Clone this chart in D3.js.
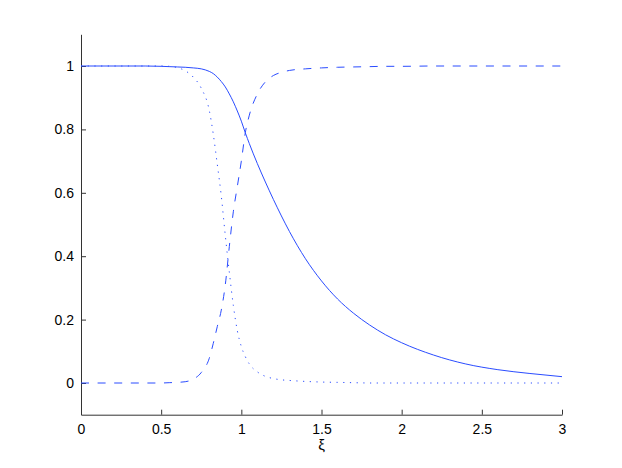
<!DOCTYPE html>
<html><head><meta charset="utf-8">
<script src="https://cdnjs.cloudflare.com/ajax/libs/d3/7.8.5/d3.min.js"></script>
<style>
body{margin:0;background:#fff;}
svg{display:block;}
text{font-family:"Liberation Sans",Arial,sans-serif;}
</style></head>
<body>
<script>
const xi = [0,0.1,0.2,0.3,0.4,0.5,0.55,0.6,0.65,0.7,0.75,0.8,0.825,0.85,0.875,0.9,0.925,0.95,0.975,1.0,1.025,1.05,1.1,1.15,1.2,1.25,1.3,1.4,1.5,1.6,1.7,1.8,1.9,2.0,2.2,2.4,2.6,2.8,3.0];
const solid = [1,1,1,1,1,0.999,0.998,0.997,0.996,0.994,0.991,0.983,0.976,0.965,0.951,0.934,0.912,0.887,0.858,0.826,0.789,0.755,0.692,0.634,0.579,0.527,0.478,0.392,0.322,0.265,0.220,0.183,0.152,0.127,0.088,0.06,0.042,0.03,0.020];
const dotted = [1,1,1,1,1,1,0.999,0.995,0.985,0.965,0.93,0.86,0.785,0.69,0.59,0.465,0.35,0.245,0.165,0.115,0.083,0.06,0.035,0.021,0.014,0.01,0.008,0.005,0.003,0.002,0.001,0,0,0,0,0,0,0,0];
const dashed = [0,0,0,0,0,0,0.001,0.002,0.004,0.012,0.033,0.078,0.125,0.178,0.23,0.31,0.43,0.54,0.62,0.70,0.79,0.845,0.912,0.95,0.97,0.98,0.986,0.991,0.994,0.996,0.997,0.998,0.999,0.999,1,1,1,1,1];
const xTicks = [0,0.5,1,1.5,2,2.5,3];
const yTicks = [0,0.2,0.4,0.6,0.8,1];
const xLabel = "ξ";

const W = 622, H = 468;
const svg = d3.select("body").append("svg").attr("width", W).attr("height", H);
const x = d3.scaleLinear().domain([0,3]).range([81,562]);
const y = d3.scaleLinear().domain([-0.1,1.1]).range([414.7,34.3]);

const axisColor = "#333";
const gx = svg.append("g").attr("transform", `translate(0,${y(-0.1)})`)
  .call(d3.axisBottom(x).tickValues(xTicks).tickFormat(d3.format("")).tickSizeInner(-5).tickSizeOuter(0).tickPadding(9));
const gy = svg.append("g").attr("transform", `translate(${x(0)},0)`)
  .call(d3.axisLeft(y).tickValues(yTicks).tickFormat(d3.format("")).tickSizeInner(-5).tickSizeOuter(0).tickPadding(7));
[gx, gy].forEach(g => {
  g.select(".domain").attr("stroke", axisColor).attr("stroke-width", 1);
  g.selectAll(".tick line").attr("stroke", axisColor);
  g.selectAll(".tick text").attr("fill", "#000").style("font-size", "14px");
});

svg.append("text").attr("x", x(1.5)).attr("y", 450).attr("text-anchor", "middle")
  .style("font-size", "15px").attr("fill", "#000").text(xLabel);

const plot = svg.append("g");
function draw(vals, dash) {
  const line = d3.line().x((d,i) => x(xi[i])).y(d => y(d)).curve(d3.curveMonotoneX);
  plot.append("path").datum(vals).attr("d", line).attr("fill", "none")
    .attr("stroke", "#2a4cff").attr("stroke-width", 1)
    .attr("stroke-dasharray", dash);
}
draw(solid, null);
draw(dashed, "8,8.6");
draw(dotted, "1.2,5.5");
</script>
</body></html>
